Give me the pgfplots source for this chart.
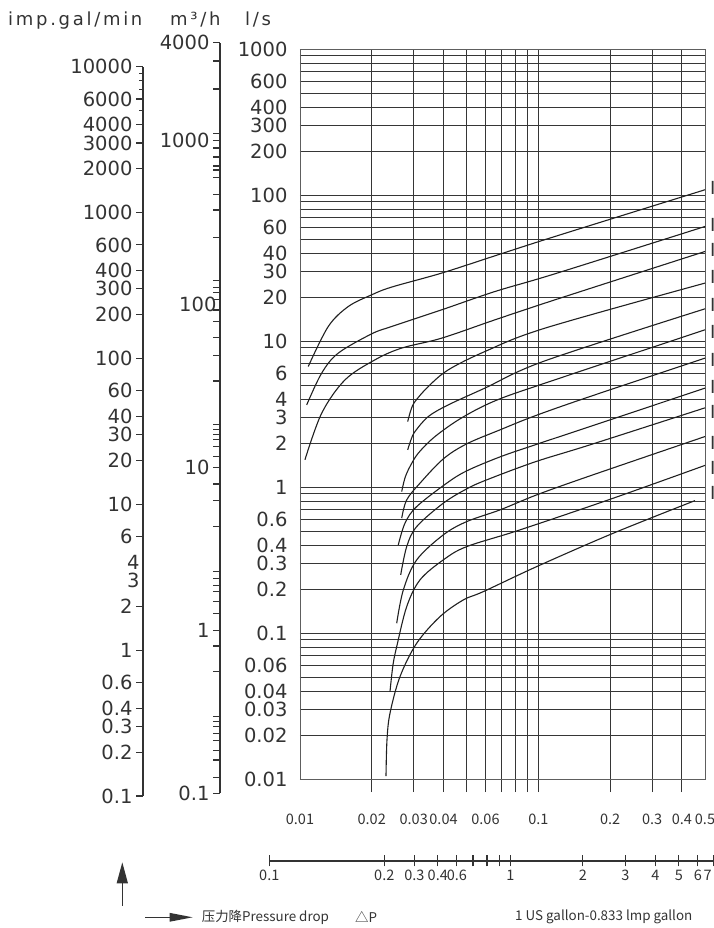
\documentclass[border=0pt]{standalone}
\usepackage{pgfplots}
\pgfplotsset{compat=1.18}
\usepackage{fontspec}
\setmainfont{DejaVu Sans}
\newfontfamily\cjk{Noto Sans CJK SC}
\newfontfamily\ttl[LetterSpace=15]{DejaVu Sans}
\usetikzlibrary{arrows.meta}
\definecolor{txt}{HTML}{333333}
\definecolor{gridc}{HTML}{363636}
\definecolor{crv}{HTML}{202020}
\newcommand{\lbl}{\fontsize{19.5}{21}\selectfont}
\newcommand{\sml}{\cjk\fontsize{14.5}{16}\selectfont}
\tikzset{lab/.style={anchor=west, inner sep=0pt, xshift=5pt, text=txt, font=\fontsize{18}{18}\selectfont}}

\begin{document}
\begin{tikzpicture}[x=1pt,y=1pt]
\useasboundingbox (0,0) rectangle (714,928);

% ---------------- imp.gal/min scale
\begin{axis}[
  at={(143pt,132pt)}, anchor=south west,
  scale only axis, width=20pt, height=729.3pt,
  xmin=0, xmax=1, ymode=log, ymin=0.1, ymax=10000,
  axis y line*=left, axis x line=none,
  axis line style={txt, line width=1.1pt},
  tick style={txt, line width=1.1pt},
  tick align=outside, major tick length=7pt, minor tick length=4pt,
  ytick={0.1,0.2,0.3,0.4,0.6,1,2,6,10,20,30,40,60,100,200,300,400,600,1000,2000,3000,4000,6000,10000},
  yticklabels={0.1,0.2,0.3,0.4,0.6,1,2,6,10,20,30,40,60,100,200,300,400,600,1000,2000,3000,4000,6000,10000},
  minor ytick={5000,7000,8000,9000},
  extra y ticks={3,4}, extra y tick labels={3,4},
  extra y tick style={major tick length=0pt},
  yticklabel style={font=\lbl, text=txt},
]
\end{axis}

% ---------------- m3/h scale
\begin{axis}[
  at={(220pt,134.7pt)}, anchor=south west,
  scale only axis, width=20pt, height=750.6pt,
  xmin=0, xmax=1, ymode=log, ymin=0.1, ymax=4000,
  axis y line*=left, axis x line=none,
  axis line style={txt, line width=1.1pt},
  tick style={txt, line width=1.1pt},
  tick align=outside, major tick length=7pt,
  ytick={0.1,0.125,0.16,0.184,0.212,0.233,0.256,0.275,0.295,0.556,0.8,1,1.27,1.5,1.72,1.89,2.08,2.28,4.35,6.22,7.88,10,11.6,13.3,14.7,15.9,17.1,18.3,33.7,48.5,62.1,77.9,91.9,106,117,127,139,255,377,470,600,663,702,797,905,1000,1113,2081,3090,4000},
  yticklabels={0.1,{},{},{},{},{},{},{},{},{},{},1,{},{},{},{},{},{},{},{},{},10,{},{},{},{},{},{},{},{},{},{},{},{},{},{},{},{},{},{},{},{},{},{},{},1000,{},{},{},4000},
  extra y ticks={100}, extra y tick labels={100},
  extra y tick style={major tick length=0pt},
  yticklabel style={font=\lbl, text=txt},
]
\end{axis}

% ---------------- main chart
\begin{axis}[
  at={(300pt,148.7pt)}, anchor=south west,
  scale only axis, width=405pt, height=730.3pt,
  xmode=log, ymode=log, xmin=0.01, xmax=0.5, ymin=0.01, ymax=1000,
  clip=false,
  axis line style={gridc!80, line width=0.9pt},
  grid=major,
  major grid style={gridc, line width=0.9pt},
  tick style={gridc, line width=0.9pt},
  xtick pos=bottom, ytick pos=left,
  tick align=outside, major tick length=13pt,
  xtick={0.02,0.03,0.04,0.05,0.06,0.07,0.08,0.09,0.1,0.2,0.3,0.4},
  xticklabels={0.02,0.03,0.04,{},0.06,{},{},{},0.1,0.2,0.3,0.4},
  extra x ticks={0.01,0.5}, extra x tick labels={0.01,0.5},
  extra x tick style={major tick length=0pt, grid=none, xticklabel style={yshift=-13pt}},
  xticklabel style={font=\sml, text=txt, yshift=-18pt},
  ytick={0.01,0.02,0.03,0.04,0.05,0.06,0.07,0.08,0.09,0.1,0.2,0.3,0.4,0.5,0.6,0.7,0.8,0.9,1,2,3,4,5,6,7,8,9,10,20,30,40,50,60,70,80,90,100,200,300,400,500,600,700,800,900,1000},
  yticklabels={0.01,0.02,0.03,0.04,{},0.06,{},{},{},0.1,0.2,0.3,0.4,{},0.6,{},{},{},1,2,3,4,{},6,{},{},{},10,20,30,40,{},60,{},{},{},100,200,300,400,{},600,{},{},{},1000},
  ytick style={draw=none},
  yticklabel style={font=\lbl, text=txt, xshift=4pt},
  cycle list={{crv}},
  every axis plot post/.style={crv, solid, line width=1.1pt, smooth, tension=0.55, mark=none},
]
% curves (flow vs pressure drop)
\addplot coordinates {(0.01083,6.70) (0.01314,12.59) (0.01595,17.26) (0.0200,20.76) (0.02424,23.44) (0.03931,29.23) (0.06577,38.39) (0.1174,52.05) (0.5,108.7)};
\addplot coordinates {(0.01067,3.66) (0.01233,6.04) (0.01448,8.28) (0.0200,11.22) (0.02424,12.59) (0.03931,16.38) (0.06577,21.86) (0.1174,28.91) (0.5,60.95)};
\addplot coordinates {(0.01049,1.54) (0.01233,3.21) (0.01545,5.43) (0.02064,7.45) (0.02671,8.96) (0.03931,10.48) (0.06577,13.99) (0.1174,19.18) (0.5,41.09)};
\addplot coordinates {(0.02830,2.814) (0.02921,3.384) (0.03037,3.857) (0.03453,4.89) (0.04190,6.360) (0.05970,8.49) (0.1066,12.27) (0.5,24.96)};
\addplot coordinates {(0.02830,1.801) (0.02921,2.109) (0.03037,2.403) (0.03453,3.045) (0.04190,3.66) (0.05970,4.77) (0.1066,7.331) (0.5,16.64)};
\addplot coordinates {(0.02671,0.9330) (0.02757,1.158) (0.02893,1.384) (0.03135,1.709) (0.03685,2.222) (0.04767,2.983) (0.06577,3.900) (0.1066,5.156) (0.5,11.95)};
\addplot coordinates {(0.02671,0.6134) (0.02803,0.8185) (0.03187,1.065) (0.03992,1.562) (0.05004,1.980) (0.06904,2.469) (0.09676,3.079) (0.1646,4.174) (0.5,7.650)};
\addplot coordinates {(0.02584,0.4025) (0.02757,0.5668) (0.03087,0.7366) (0.04125,1.065) (0.05004,1.293) (0.06904,1.612) (0.09676,1.949) (0.1646,2.601) (0.5,4.765)};
\addplot coordinates {(0.02645,0.2507) (0.02803,0.3919) (0.03087,0.5371) (0.03992,0.7770) (0.05004,0.9737) (0.06069,1.122) (0.09676,1.490) (0.1646,1.949) (0.5,3.493)};
\addplot coordinates {(0.02545,0.1171) (0.02713,0.1980) (0.03087,0.3178) (0.03992,0.4714) (0.05004,0.5813) (0.06904,0.6990) (0.09837,0.8857) (0.1646,1.195) (0.5,2.222)};
\addplot coordinates {(0.02385,0.03981) (0.02455,0.06065) (0.02545,0.08093) (0.02803,0.1521) (0.03187,0.2318) (0.03992,0.3178) (0.05004,0.3919) (0.08372,0.5099) (0.2062,0.8408) (0.5,1.410)};
\addplot coordinates {(0.02295,0.01053) (0.02317,0.01859) (0.02385,0.02832) (0.02627,0.05043) (0.03087,0.08542) (0.03867,0.1299) (0.04842,0.1690) (0.05873,0.1927) (0.09837,0.2859) (0.2062,0.4841) (0.4540,0.8093)};
% cut-off labels at the right edge
\node[lab] at (axis cs:0.5,111.7) {I};
\node[lab] at (axis cs:0.5,62.6) {I};
\node[lab] at (axis cs:0.5,42.2) {I};
\node[lab] at (axis cs:0.5,27.7) {I};
\node[lab] at (axis cs:0.5,17.73) {I};
\node[lab] at (axis cs:0.5,11.63) {I};
\node[lab] at (axis cs:0.5,7.445) {I};
\node[lab] at (axis cs:0.5,4.89) {I};
\node[lab] at (axis cs:0.5,3.295) {I};
\node[lab] at (axis cs:0.5,2.002) {I};
\node[lab] at (axis cs:0.5,1.349) {I};
\node[lab] at (axis cs:0.5,0.9097) {I};
\end{axis}

% ---------------- pressure drop scale
\begin{axis}[
  at={(269.3pt,67pt)}, anchor=south west,
  scale only axis, width=444.7pt, height=10pt,
  xmode=log, xmin=0.1, xmax=7, ymin=0, ymax=1,
  axis x line*=bottom, axis y line=none,
  axis line style={txt, line width=1.2pt},
  tick style={txt, line width=1.2pt},
  tick align=center, major tick length=11pt,
  xtick={0.1,0.3,0.4,0.5,0.6,0.7,0.8,0.9,1,2,3,4,5,6,7},
  xticklabels={0.1,0.2,0.3,0.4,0.6,{},{},{},1,2,3,4,5,6,{\makebox[0pt][r]{7\,}}},
  xticklabel style={font=\sml, text=txt},
]
\end{axis}

% ---------------- titles and notes
\node[anchor=base west, inner sep=0pt, text=txt, font=\ttl\fontsize{18}{20}\selectfont] at (8,902) {imp.gal/min};
\node[anchor=base west, inner sep=0pt, text=txt, font=\ttl\fontsize{18}{20}\selectfont] at (170,902) {m³/h};
\node[anchor=base west, inner sep=0pt, text=txt, font=\ttl\fontsize{18}{20}\selectfont] at (245,902) {l/s};

\draw[txt, line width=1.3pt, -{Triangle[length=21pt,width=11pt]}] (122.3,22) -- (122.3,65.7);
\draw[txt, line width=1.3pt, -{Triangle[length=23pt,width=8.5pt]}] (145,10.7) -- (192.7,10.7);
\node[anchor=west, inner sep=0pt, text=txt, font=\cjk\fontsize{13.4}{15}\selectfont] at (201.7,11) {压力降Pressure drop};
\node[anchor=west, inner sep=0pt, text=txt, font=\cjk\fontsize{13.4}{15}\selectfont] at (355,11) {△P};
\node[anchor=west, inner sep=0pt, text=txt, font=\cjk\fontsize{13.4}{15}\selectfont] at (515,11) {1 US gallon-0.833 lmp gallon};
\end{tikzpicture}
\end{document}
